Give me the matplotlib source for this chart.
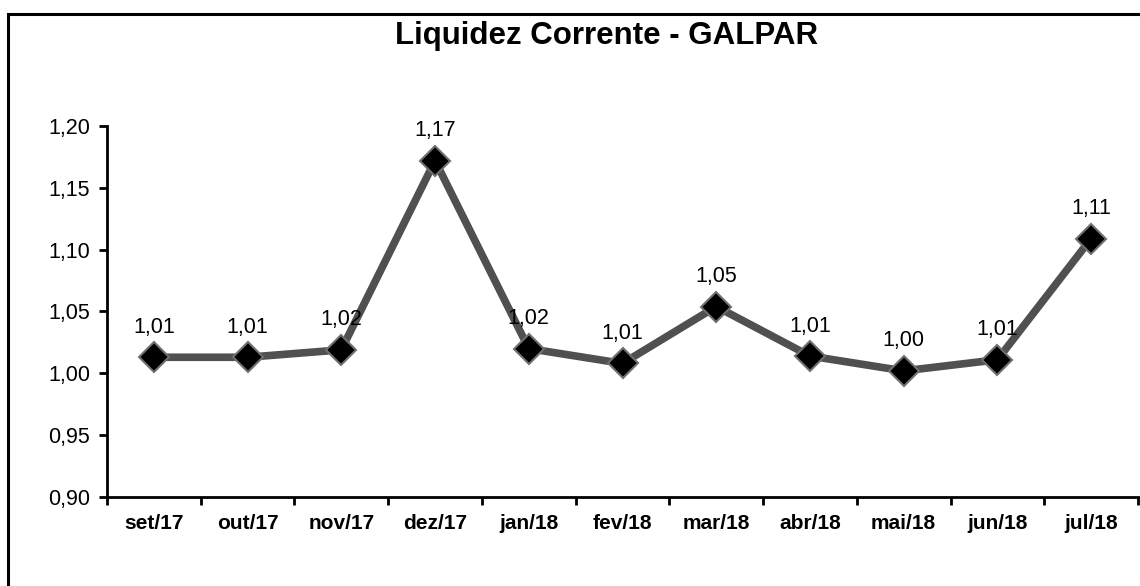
import numpy as np
import matplotlib.pyplot as plt
from matplotlib.patches import Rectangle

meses = ['set/17', 'out/17', 'nov/17', 'dez/17', 'jan/18', 'fev/18',
         'mar/18', 'abr/18', 'mai/18', 'jun/18', 'jul/18']
liquidez = [1.013, 1.013, 1.019, 1.172, 1.020, 1.008, 1.054, 1.014, 1.002, 1.011, 1.109]
rotulos = ['1,01', '1,01', '1,02', '1,17', '1,02', '1,01', '1,05', '1,01', '1,00', '1,01', '1,11']
yticks = [0.90, 0.95, 1.00, 1.05, 1.10, 1.15, 1.20]

plt.rcParams['font.family'] = ['Liberation Sans', 'DejaVu Sans']

fig = plt.figure(figsize=(11.4, 5.86), dpi=100)
ax = fig.add_axes([107/1140, 1 - 497/586, (1138 - 107)/1140, (497 - 126)/586])

# outer frame of the pasted chart (right/bottom cut off)
fig.patches.append(Rectangle((8/1140, -0.02), 1.1, 1 - 14/586 + 0.02,
                             transform=fig.transFigure, fill=False,
                             edgecolor='black', linewidth=2.2))

x = np.arange(len(meses))
ax.plot(x, liquidez, color='#505050', linewidth=5.5, zorder=2)
ax.plot(x, liquidez, linestyle='none', marker='D', markersize=15.5,
        markerfacecolor='black', markeredgecolor='#707070', markeredgewidth=1.5, zorder=3)

for xi, yi, r in zip(x, liquidez, rotulos):
    ax.annotate(r, (xi, yi), xytext=(0, 14), textcoords='offset points',
                ha='center', va='bottom', fontsize=15.5)

ax.set_xlim(-0.5, len(meses) - 0.5)
ax.set_ylim(0.90, 1.20)
ax.set_yticks(yticks)
ax.set_yticklabels([f'{v:.2f}'.replace('.', ',') for v in yticks], fontsize=15.5)
ax.set_xticks(x)
ax.set_xticklabels(meses, fontsize=15, fontweight='bold')
ax.set_xticks(np.arange(-0.5, len(meses)), minor=True)
ax.tick_params(axis='x', which='major', length=0, pad=12)
ax.tick_params(axis='x', which='minor', length=6, width=2, direction='out')
ax.tick_params(axis='y', length=6, width=2, direction='out', pad=6)

for s in ['top', 'right']:
    ax.spines[s].set_visible(False)
ax.spines['left'].set_linewidth(2)
ax.spines['bottom'].set_linewidth(2)

fig.text(607/1140, 1 - 36/586, 'Liquidez Corrente - GALPAR', ha='center', va='center',
         fontsize=22.5, fontweight='bold')

fig.savefig('out.png', dpi=100)
